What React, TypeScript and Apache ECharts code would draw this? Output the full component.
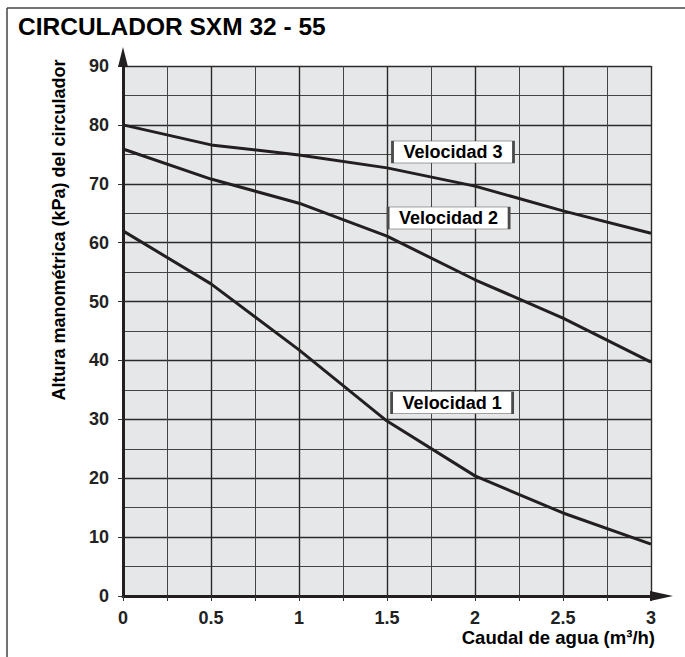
import React, { useEffect, useRef } from "react";
import * as echarts from "echarts";

const flow = [0, 0.5, 1, 1.5, 2, 2.5, 3];
const velocidad3 = [80, 76.6, 74.9, 72.7, 69.6, 65.4, 61.6];
const velocidad2 = [75.9, 70.8, 66.7, 61.1, 53.7, 47.2, 39.7];
const velocidad1 = [62, 53, 41.8, 29.7, 20.4, 14.1, 8.8];
const seriesNames = ["Velocidad 3", "Velocidad 2", "Velocidad 1"];
const labelAnchors: [number, number][] = [
  [1.875, 75.4],
  [1.85, 64.2],
  [1.87, 32.8],
];
const xTicks = [0, 0.5, 1, 1.5, 2, 2.5, 3];
const yTicks = [0, 10, 20, 30, 40, 50, 60, 70, 80, 90];

const FONT = "'Liberation Sans', Arial, Helvetica, sans-serif";
const INK = "#231f20";
const W = 685;
const H = 657;
const G = { left: 123, top: 66, right: 34, bottom: 61 };

export default function App() {
  const ref = useRef<HTMLDivElement>(null);
  useEffect(() => {
    if (!ref.current) return;
    const chart = echarts.init(ref.current, undefined, { renderer: "svg" });
    const values = [velocidad3, velocidad2, velocidad1];
    const series = values.map((vals, i) => ({
      name: seriesNames[i],
      type: "line",
      data: flow.map((x, j) => [x, vals[j]]),
      symbol: "none",
      lineStyle: { color: INK, width: 3 },
      z: 5,
      markPoint: {
        symbol: "rect",
        symbolSize: [121, 22],
        itemStyle: { color: "#ffffff", borderColor: "#4a4a4a", borderWidth: 1.2 },
        label: {
          show: true,
          position: "inside",
          formatter: seriesNames[i],
          color: "#000",
          fontFamily: FONT,
          fontWeight: "bold",
          fontSize: 18,
        },
        data: [{ coord: labelAnchors[i] }],
      },
    }));
    const xAxisY = H - G.bottom;
    const xEnd = W - G.right;
    chart.setOption({
      animation: false,
      backgroundColor: "#ffffff",
      grid: {
        left: G.left,
        top: G.top,
        right: G.right,
        bottom: G.bottom,
        show: true,
        backgroundColor: "#e6e7e8",
        borderWidth: 0,
      },
      xAxis: {
        type: "value",
        min: xTicks[0],
        max: xTicks[xTicks.length - 1],
        interval: 0.5,
        axisLine: { show: true, lineStyle: { color: INK, width: 3 } },
        axisTick: { show: true, length: 5, lineStyle: { color: "#333", width: 1 } },
        minorTick: { show: true, splitNumber: 2, length: 5, lineStyle: { color: "#333", width: 1 } },
        splitLine: { show: true, lineStyle: { color: "#2a2a2a", width: 1.4 } },
        minorSplitLine: { show: true, lineStyle: { color: "#444", width: 1 } },
        axisLabel: {
          color: "#222",
          fontFamily: FONT,
          fontWeight: "bold",
          fontSize: 18,
          margin: 13,
          formatter: (v: number) => String(v),
        },
      },
      yAxis: {
        type: "value",
        min: yTicks[0],
        max: yTicks[yTicks.length - 1],
        interval: 10,
        axisLine: { show: true, lineStyle: { color: INK, width: 3 } },
        axisTick: { show: true, length: 5, lineStyle: { color: "#333", width: 1 } },
        splitLine: { show: true, lineStyle: { color: "#2a2a2a", width: 1.4 } },
        minorTick: { show: false, splitNumber: 2 },
        minorSplitLine: { show: true, lineStyle: { color: "#444", width: 1 } },
        axisLabel: {
          color: "#222",
          fontFamily: FONT,
          fontWeight: "bold",
          fontSize: 18,
          margin: 14,
        },
      },
      graphic: [
        {
          type: "line",
          shape: { x1: 7, y1: 8, x2: W, y2: 8 },
          style: { stroke: "#444", lineWidth: 1.5 },
        },
        {
          type: "line",
          shape: { x1: 7, y1: 8, x2: 7, y2: H },
          style: { stroke: "#444", lineWidth: 1.5 },
        },
        {
          type: "polygon",
          z: 10,
          shape: {
            points: [
              [G.left, G.top - 19],
              [G.left + 5, G.top + 1],
              [G.left - 5, G.top + 1],
            ],
          },
          style: { fill: INK },
        },
        {
          type: "polygon",
          z: 10,
          shape: {
            points: [
              [xEnd + 22, xAxisY],
              [xEnd - 1, xAxisY - 5],
              [xEnd - 1, xAxisY + 5],
            ],
          },
          style: { fill: INK },
        },
        {
          type: "text",
          x: 18,
          y: 26,
          style: {
            text: "CIRCULADOR SXM 32 - 55",
            fill: "#000",
            font: `bold 24.5px ${FONT}`,
            textAlign: "left",
            textVerticalAlign: "middle",
          },
        },
        {
          type: "text",
          x: 655,
          y: 637,
          style: {
            text: "Caudal de agua (m³/h)",
            fill: "#000",
            font: `bold 18.5px ${FONT}`,
            textAlign: "right",
            textVerticalAlign: "middle",
          },
        },
        {
          type: "text",
          x: 59,
          y: 230,
          rotation: Math.PI / 2,
          style: {
            text: "Altura manométrica (kPa) del circulador",
            fill: "#000",
            font: `bold 18px ${FONT}`,
            textAlign: "center",
            textVerticalAlign: "middle",
          },
        },
      ],
      series,
    });
    return () => chart.dispose();
  }, []);
  return (
    <div
      ref={ref}
      style={{ position: "absolute", left: 0, top: 0, width: W, height: H }}
    />
  );
}
